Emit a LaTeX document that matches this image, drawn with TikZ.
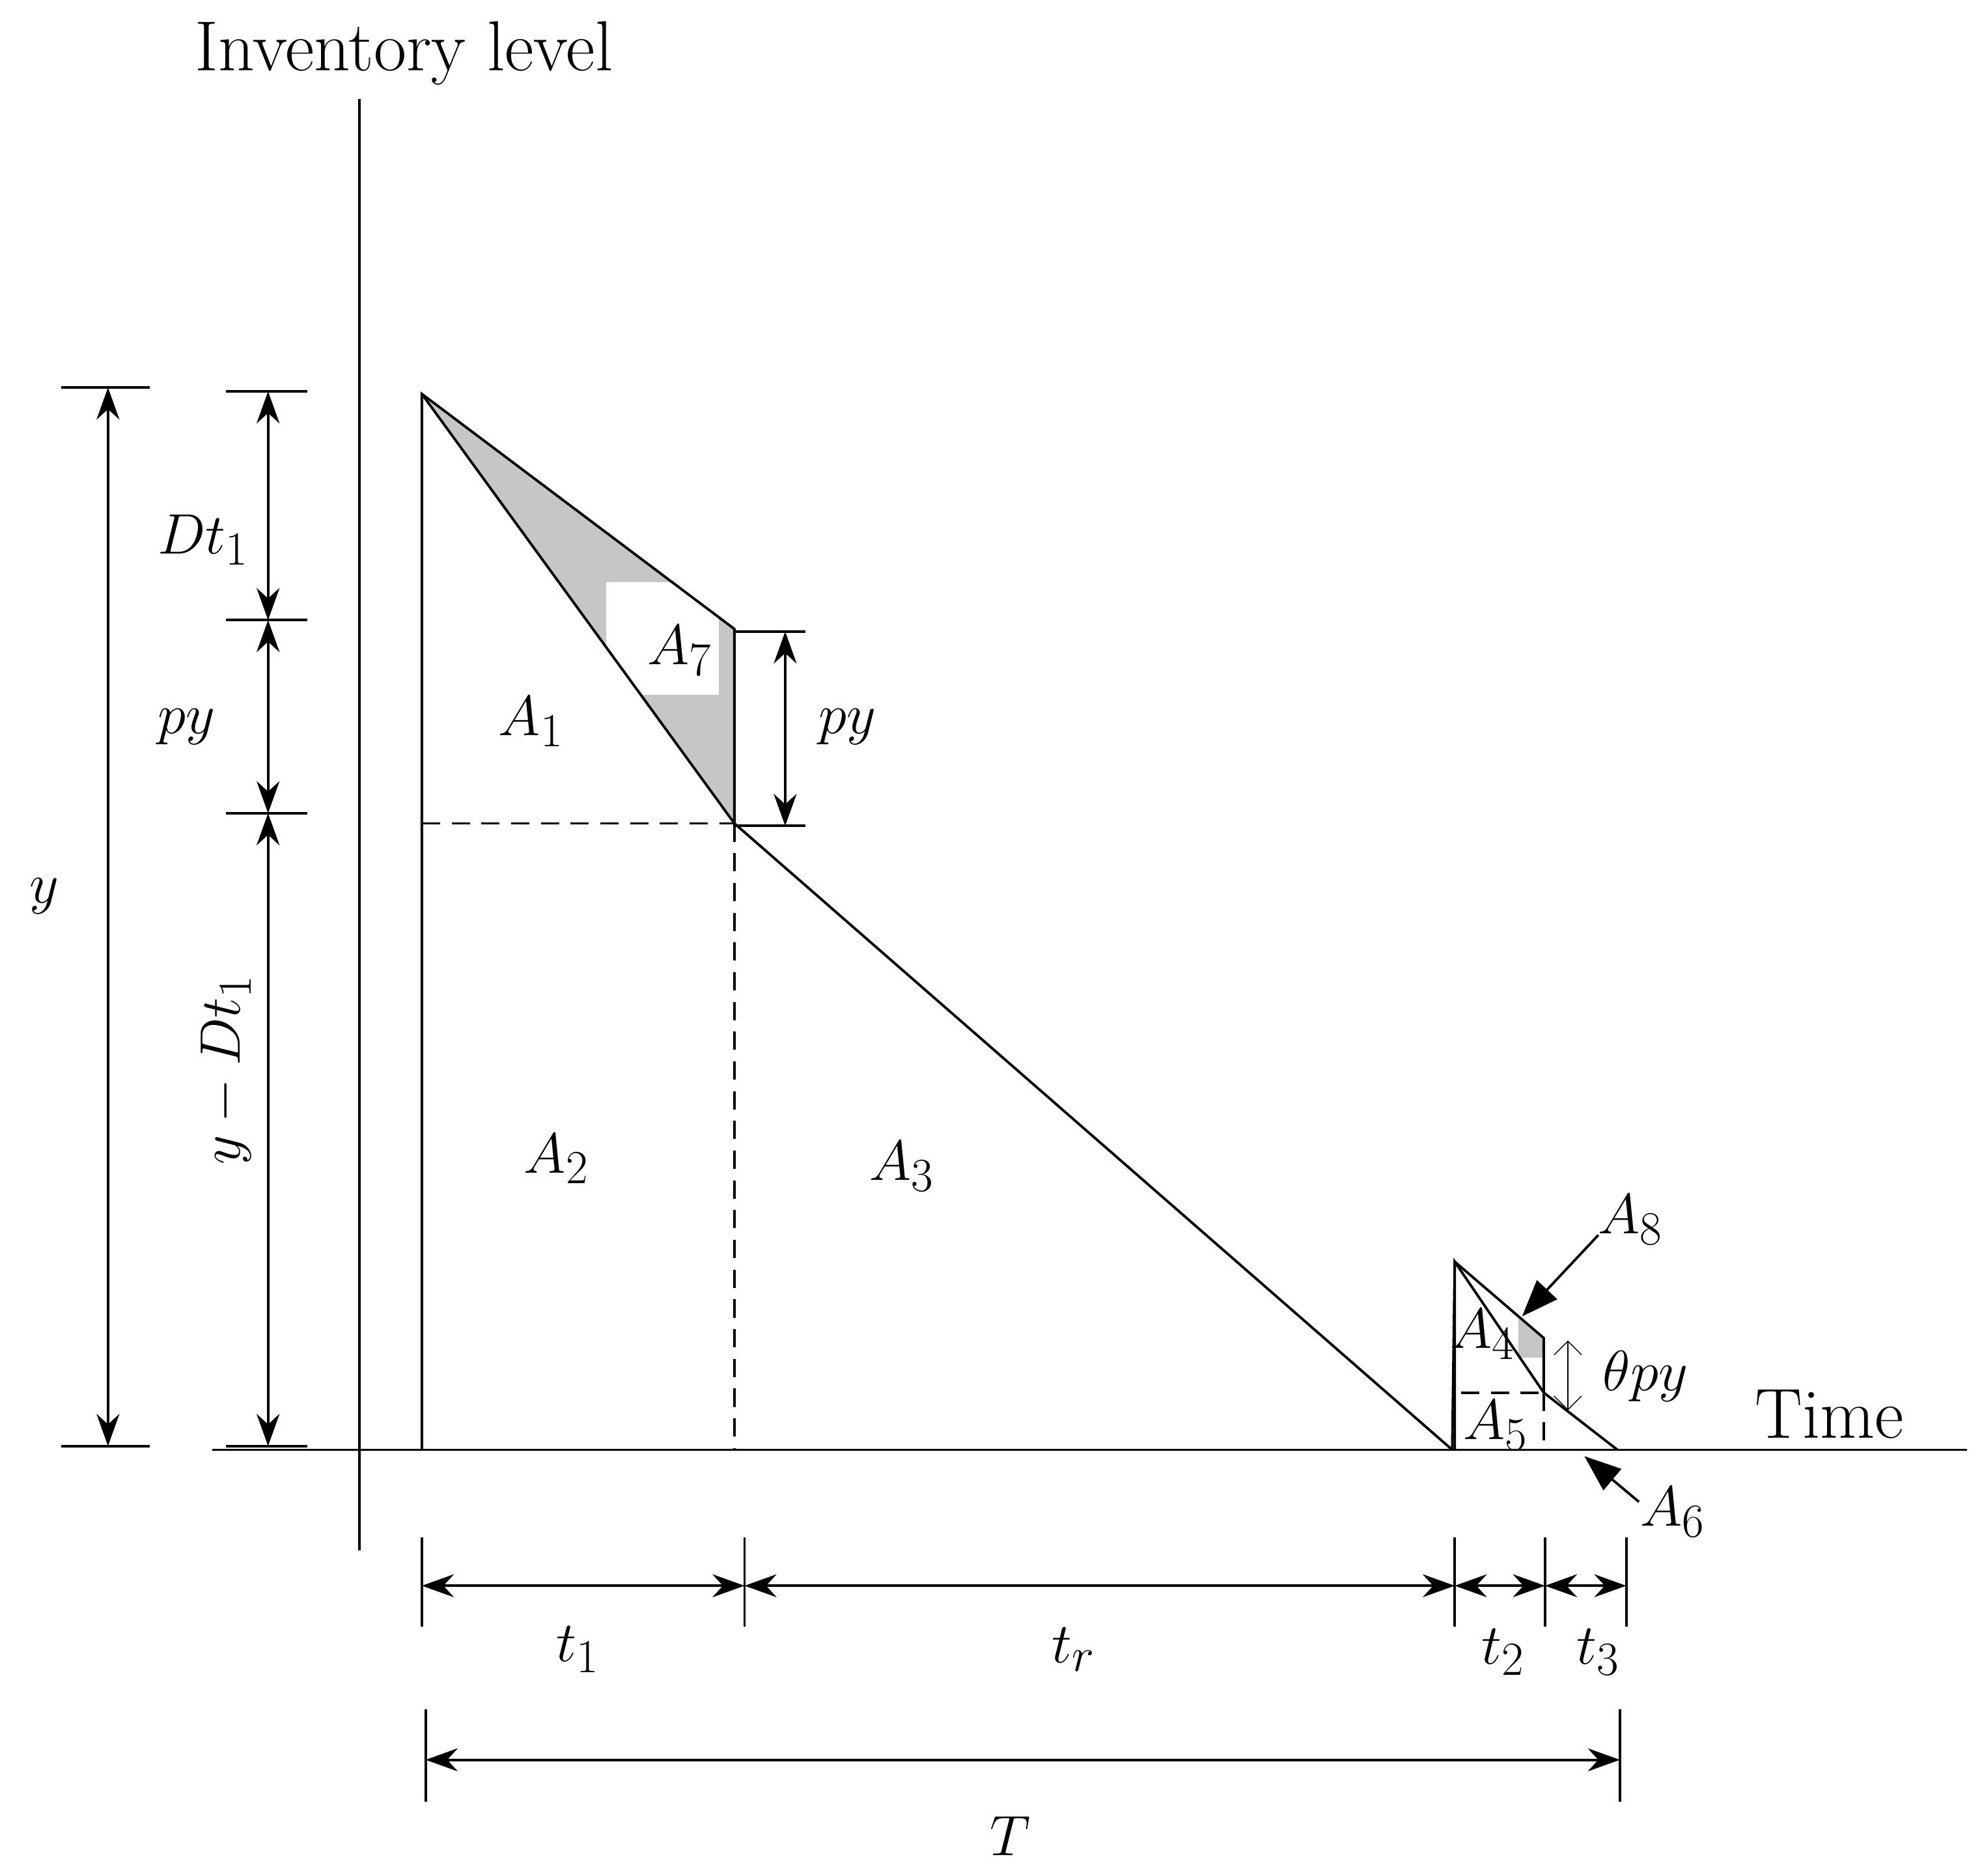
\documentclass[tikz,border=0pt]{standalone}
\usetikzlibrary{arrows.meta}
\begin{document}
\begin{tikzpicture}[x=0.01951cm,y=-0.01951cm,line width=1.1pt,
  lbl/.style={font=\fontsize{30}{34}\selectfont,inner sep=0pt},
  dim/.style={{Stealth[length=14pt,width=10pt]}-{Stealth[length=14pt,width=10pt]}},
  callout/.style={-{Triangle[length=16pt,width=12pt]}},
  dsh/.style={dashed,dash pattern=on 8pt off 5pt}]
\useasboundingbox (0,0) rectangle (1560,1476);
\coordinate (P) at (332,310); \coordinate (U) at (578,495); \coordinate (L) at (578,648);
\coordinate (Z) at (1143,1141); \coordinate (P0) at (332,1141); \coordinate (L0) at (578,1141);
\coordinate (Q) at (1145,993); \coordinate (M) at (1215,1053); \coordinate (N) at (1215,1096);
\coordinate (E) at (1273,1141); \coordinate (Q0) at (1145,1141); \coordinate (N0) at (1215,1141);
\fill[gray!45] (P)--(U)--(L)--cycle;
\fill[white] (477,458) rectangle (566,547);
\begin{scope}
\clip (1195,1000) rectangle (1215,1068);
\fill[gray!45] (Q)--(M)--(N)--cycle;
\end{scope}
\draw (283,78) -- (283,1220);
\draw (167,1141) -- (1548,1141);
\node[font=\fontsize{31}{35}\selectfont,inner sep=0pt] (inv) at (318,42) {Inventory level};
\node[font=\fontsize{31}{35}\selectfont,inner sep=0pt] (time) at (1440,1113) {Time};
\draw (P0) -- (P) -- (U) -- (L);
\draw (P) -- (L) -- (Z);
\draw[dsh] (P |- L) -- (L);
\draw[dsh] (L) -- (L0);
\draw (Z) -- (Q) -- (M) -- (N);
\draw (Q0) -- (Q) -- (N) -- (E);
\draw[dsh] (1150,1096) -- (N);
\draw[dsh] (N) -- (N0);
\node[lbl] (a1) at (418,568) {$A_1$};
\node[lbl] (a2) at (438,912) {$A_2$};
\node[lbl] (a3) at (710,918) {$A_3$};
\node[lbl] (a7) at (535,512) {$A_7$};
\node[lbl] (a4) at (1167,1050) {$A_4$};
\node[lbl] (a5) at (1177,1122) {$A_5$};
\node[lbl,anchor=west] (a8) at (1257,960) {$A_8$};
\node[lbl,anchor=west] (a6) at (1290,1190) {$A_6$};
\coordinate (a8t) at (1198,1036); \coordinate (a6t) at (1247,1146);
\draw[callout] (1258,972) -- (a8t);
\draw[callout] (1290,1182) -- (a6t);
\draw (578,497) -- (634,497); \draw (578,650) -- (634,650);
\draw[dim] (618,497) -- (618,650);
\node[lbl] (py2) at (667,572) {$py$};
\draw[thin,{Straight Barb[length=6pt]}-{Straight Barb[length=6pt]}] (1234,1055) -- (1234,1110);
\node[lbl] (tpy) at (1295,1083) {$\theta py$};
\draw (48,305) -- (118,305); \draw (48,1138) -- (118,1138);
\draw[dim] (85,305) -- (85,1138);
\node[lbl] (yl) at (35,705) {$y$};
\foreach \yy in {308,488,640,1138} \draw (178,\yy) -- (242,\yy);
\draw[dim] (211,308) -- (211,488);
\draw[dim] (211,488) -- (211,640);
\draw[dim] (211,640) -- (211,1138);
\node[lbl] (dt1) at (160,425) {$Dt_1$};
\node[lbl] (py1) at (147,572) {$py$};
\node[lbl,rotate=90] (ydt) at (178,842) {$y-Dt_1$};
\foreach \xx in {332,586,1145,1216,1280} \draw (\xx,1210) -- (\xx,1280);
\draw[dim] (332,1248) -- (586,1248);
\draw[dim] (586,1248) -- (1145,1248);
\draw[dim] (1145,1248) -- (1216,1248);
\draw[dim] (1216,1248) -- (1280,1248);
\node[lbl] (t1) at (455,1298) {$t_1$};
\node[lbl] (tr) at (845,1298) {$t_r$};
\node[lbl] (t2) at (1183,1300) {$t_2$};
\node[lbl] (t3) at (1258,1300) {$t_3$};
\draw (335,1345) -- (335,1418); \draw (1275,1345) -- (1275,1418);
\draw[dim] (335,1385) -- (1275,1385);
\node[lbl] (TT) at (795,1445) {$T$};
\end{tikzpicture}
\end{document}
